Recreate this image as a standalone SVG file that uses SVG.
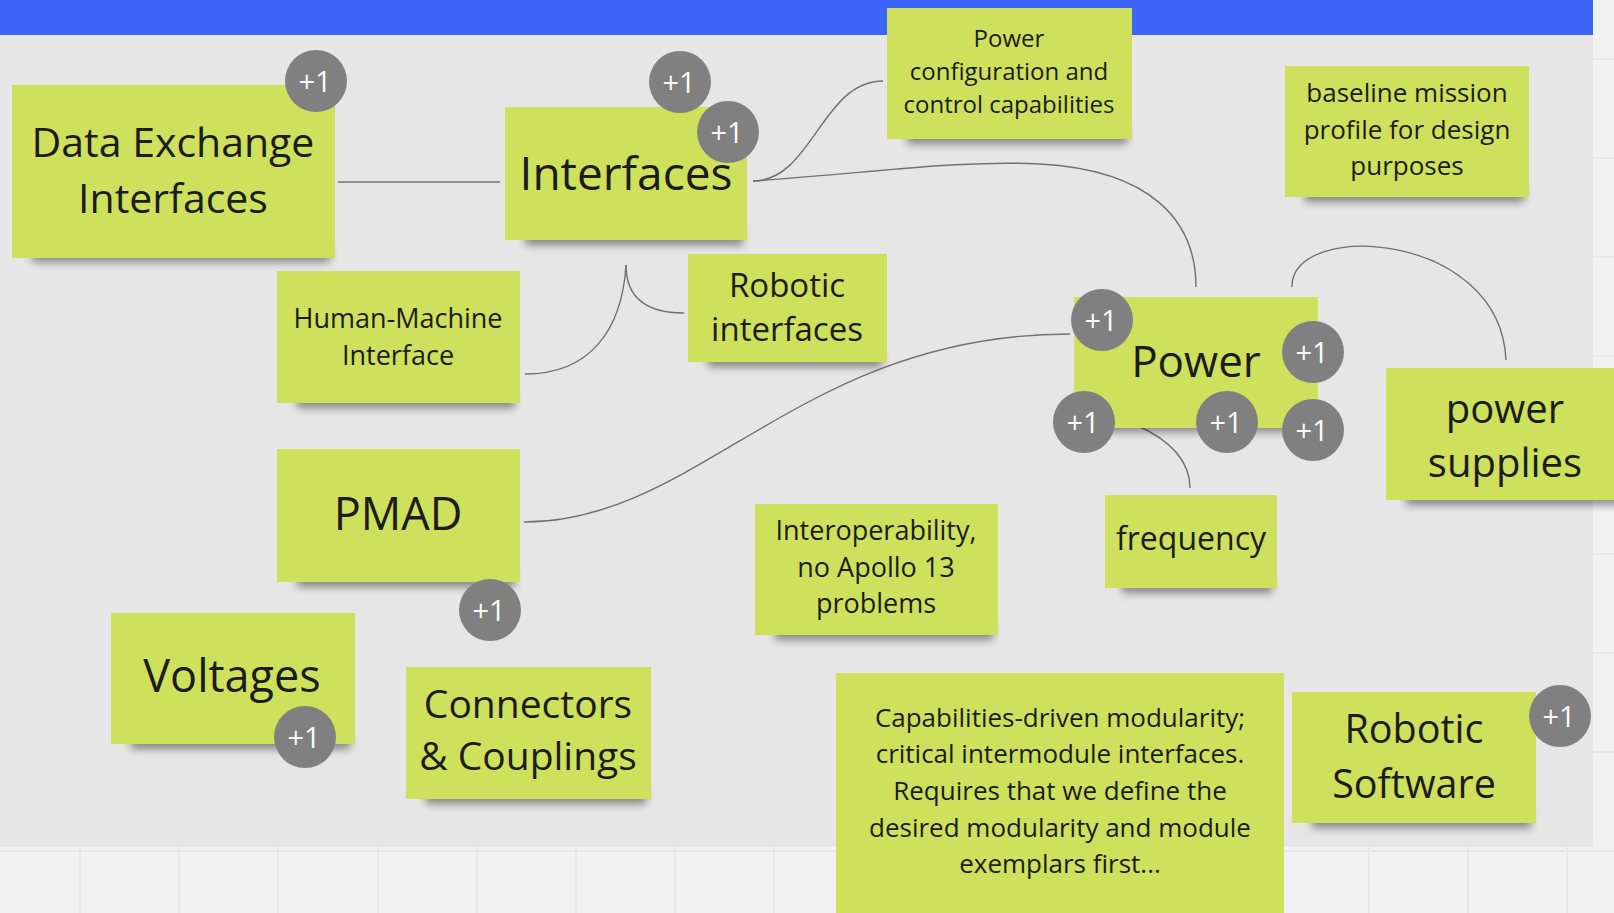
<svg xmlns="http://www.w3.org/2000/svg" width="1614" height="913" viewBox="0 0 1614 913">
<defs>
<filter id="blur" x="-20%" y="-100%" width="140%" height="300%"><feGaussianBlur stdDeviation="4"/></filter>
<style>
.note{fill:#cde15c}
.sh{fill:#000;opacity:.42;filter:url(#blur)}
.t{font-family:'Open Sans','Liberation Sans',sans-serif;fill:#1c1c1c;text-anchor:middle}
.b circle{fill:#808080}
.b text{font-family:'Open Sans','Liberation Sans',sans-serif;fill:#fafafa;font-size:29px;text-anchor:middle}
.c{fill:none;stroke:#707070;stroke-width:1.4}
.g{stroke:#e7e7e7;stroke-width:2}
</style>
</defs>
<rect width="1614" height="913" fill="#f2f2f2"/>
<g id="grid">
<path class="g" d="M80,0V913M179,0V913M278,0V913M378,0V913M477,0V913M576,0V913M675,0V913M774,0V913M873,0V913M973,0V913M1072,0V913M1171,0V913M1270,0V913M1369,0V913M1468,0V913M1567,0V913"/>
<path class="g" d="M0,59H1614M0,158H1614M0,257H1614M0,356H1614M0,455H1614M0,554H1614M0,653H1614M0,752H1614M0,851H1614"/>
</g>
<rect id="board" x="0" y="0" width="1593" height="847" fill="#e6e6e6"/>
<rect id="topbar" x="0" y="0" width="1593" height="35" fill="#3d65f8"/>

<g id="connectors">
<path class="c" d="M338,182H500"/>
<path class="c" d="M753,181C812,181 822,81 883,81"/>
<path class="c" d="M753,181C880,172 960,160 1040,164C1150,170 1196,220 1196,287"/>
<path class="c" d="M626,265C622,330 590,374 525,374"/>
<path class="c" d="M626,265C626,300 650,313 684,313"/>
<path class="c" d="M524,522C700,522 800,334 1070,334"/>
<path class="c" d="M1136,425C1170,440 1190,460 1190,488"/>
<path class="c" d="M1292,287C1290,220 1500,230 1506,360"/>
</g>

<g id="data-exchange">
<rect class="sh" x="32" y="248" width="298" height="14"/>
<rect class="note" x="12" y="85" width="323" height="173"/>
<text class="t" font-size="41" x="173" y="157">Data Exchange</text>
<text class="t" font-size="41" x="173" y="213">Interfaces</text>
<g class="b"><circle cx="316" cy="81" r="31"/><text x="315" y="92">+1</text></g>
</g>

<g id="interfaces">
<rect class="sh" x="525" y="231" width="218" height="14"/>
<rect class="note" x="505" y="107" width="242" height="133"/>
<text class="t" font-size="46" x="626" y="190">Interfaces</text>
<g class="b"><circle cx="680" cy="82" r="31"/><text x="679" y="93">+1</text></g>
<g class="b"><circle cx="728" cy="132" r="31"/><text x="727" y="143">+1</text></g>
</g>

<g id="power-config">
<rect class="sh" x="907" y="130" width="220" height="14"/>
<rect class="note" x="887" y="8" width="245" height="131"/>
<text class="t" font-size="24" x="1009" y="47">Power</text>
<text class="t" font-size="24" x="1009" y="80">configuration and</text>
<text class="t" font-size="24" x="1009" y="113">control capabilities</text>
</g>

<g id="baseline-mission">
<rect class="sh" x="1305" y="188" width="219" height="14"/>
<rect class="note" x="1285" y="66" width="244" height="131"/>
<text class="t" font-size="26" x="1407" y="102">baseline mission</text>
<text class="t" font-size="26" x="1407" y="139">profile for design</text>
<text class="t" font-size="26" x="1407" y="175">purposes</text>
</g>

<g id="human-machine">
<rect class="sh" x="297" y="394" width="218" height="14"/>
<rect class="note" x="277" y="271" width="243" height="132"/>
<text class="t" font-size="27" x="398" y="328">Human-Machine</text>
<text class="t" font-size="27" x="398" y="365">Interface</text>
</g>

<g id="robotic-interfaces">
<rect class="sh" x="708" y="353" width="174" height="14"/>
<rect class="note" x="688" y="254" width="199" height="108"/>
<text class="t" font-size="33" x="787" y="297">Robotic</text>
<text class="t" font-size="33" x="787" y="341">interfaces</text>
</g>

<g id="pmad">
<rect class="sh" x="297" y="573" width="218" height="14"/>
<rect class="note" x="277" y="449" width="243" height="133"/>
<text class="t" font-size="45" x="398" y="530">PMAD</text>
<g class="b"><circle cx="490" cy="610" r="31"/><text x="489" y="621">+1</text></g>
</g>

<g id="voltages">
<rect class="sh" x="131" y="735" width="219" height="14"/>
<rect class="note" x="111" y="613" width="244" height="131"/>
<text class="t" font-size="45" x="232" y="692">Voltages</text>
<g class="b"><circle cx="305" cy="737" r="31"/><text x="304" y="748">+1</text></g>
</g>

<g id="connectors-couplings">
<rect class="sh" x="426" y="790" width="220" height="14"/>
<rect class="note" x="406" y="667" width="245" height="132"/>
<text class="t" font-size="39" x="528" y="718">Connectors</text>
<text class="t" font-size="39" x="528" y="770">&amp; Couplings</text>
</g>

<g id="interoperability">
<rect class="sh" x="775" y="626" width="218" height="14"/>
<rect class="note" x="755" y="504" width="243" height="131"/>
<text class="t" font-size="27" x="876" y="540">Interoperability,</text>
<text class="t" font-size="27" x="876" y="577">no Apollo 13</text>
<text class="t" font-size="27" x="876" y="613">problems</text>
</g>

<g id="frequency">
<rect class="sh" x="1122" y="579" width="150" height="14"/>
<rect class="note" x="1105" y="495" width="172" height="93"/>
<text class="t" font-size="32" x="1191" y="550">frequency</text>
</g>

<g id="capabilities">
<rect class="note" x="836" y="673" width="448" height="260"/>
<text class="t" font-size="26" x="1060" y="727">Capabilities-driven modularity;</text>
<text class="t" font-size="26" x="1060" y="763">critical intermodule interfaces.</text>
<text class="t" font-size="26" x="1060" y="800">Requires that we define the</text>
<text class="t" font-size="26" x="1060" y="837">desired modularity and module</text>
<text class="t" font-size="26" x="1060" y="873">exemplars first...</text>
</g>

<g id="robotic-software">
<rect class="sh" x="1312" y="814" width="219" height="14"/>
<rect class="note" x="1292" y="692" width="244" height="131"/>
<text class="t" font-size="39.5" x="1414" y="743">Robotic</text>
<text class="t" font-size="39.5" x="1414" y="798">Software</text>
<g class="b"><circle cx="1560" cy="716" r="31"/><text x="1559" y="727">+1</text></g>
</g>

<g id="power-supplies">
<rect class="sh" x="1406" y="491" width="220" height="14"/>
<rect class="note" x="1386" y="368" width="240" height="132"/>
<text class="t" font-size="40" x="1505" y="423">power</text>
<text class="t" font-size="40" x="1505" y="477">supplies</text>
</g>

<g id="power">
<rect class="sh" x="1094" y="418" width="219" height="14"/>
<rect class="note" x="1074" y="297" width="244" height="131"/>
<text class="t" font-size="44" x="1196" y="377">Power</text>
<g class="b"><circle cx="1102" cy="320" r="31"/><text x="1101" y="331">+1</text></g>
<g class="b"><circle cx="1313" cy="352" r="31"/><text x="1312" y="363">+1</text></g>
<g class="b"><circle cx="1084" cy="422" r="31"/><text x="1083" y="433">+1</text></g>
<g class="b"><circle cx="1227" cy="422" r="31"/><text x="1226" y="433">+1</text></g>
<g class="b"><circle cx="1313" cy="430" r="31"/><text x="1312" y="441">+1</text></g>
</g>
</svg>
